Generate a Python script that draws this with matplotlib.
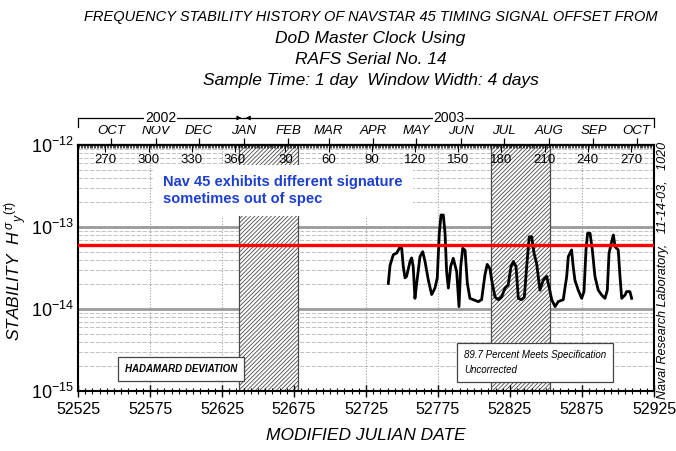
"""
Frequency stability history of NAVSTAR 45 (Hadamard deviation vs MJD).
"""

import matplotlib.pyplot as plt
import matplotlib.transforms as mtransforms
import numpy as np
from matplotlib.ticker import FixedLocator, MultipleLocator, NullFormatter

plt.rcParams["font.family"] = ["Liberation Sans", "DejaVu Sans"]
plt.rcParams["mathtext.fontset"] = "custom"
plt.rcParams["mathtext.rm"] = "Liberation Sans"
plt.rcParams["mathtext.it"] = "Liberation Sans:italic"
plt.rcParams["hatch.linewidth"] = 0.6

# ----------------------------------------------------------------- data
MJD = [52740.5, 52741.7, 52744.0, 52746.3, 52748.6, 52749.8, 52750.9, 52752.1,
       52753.2, 52755.6, 52756.7, 52757.8, 52759.0, 52760.2, 52762.5, 52764.4,
       52766.0, 52768.3, 52770.6, 52772.9, 52774.5, 52775.9, 52777.1, 52778.7,
       52779.9, 52781.0, 52782.2, 52783.8, 52785.6, 52788.0, 52789.6, 52790.8,
       52792.2, 52793.8, 52795.4, 52797.2, 52799.5, 52803.0, 52805.3, 52807.6,
       52809.2, 52811.1, 52812.3, 52814.6, 52816.9, 52819.2, 52821.5, 52823.8,
       52825.7, 52827.3, 52829.2, 52830.8, 52833.1, 52835.0, 52836.6, 52838.4,
       52840.1, 52841.7, 52843.5, 52845.8, 52848.1, 52850.5, 52852.1, 52854.0,
       52856.3, 52858.5, 52862.0, 52864.4, 52865.5, 52867.8, 52868.9, 52870.1,
       52872.4, 52874.8, 52876.4, 52877.8, 52878.9, 52880.6, 52882.2, 52884.0,
       52886.3, 52888.7, 52891.0, 52892.6, 52893.8, 52895.6, 52896.8, 52898.0,
       52900.2, 52901.4, 52902.6, 52904.9, 52906.0, 52908.3, 52909.5]
# Hadamard deviation in units of 1e-14
SIGMA_E14 = [2.05, 3.4, 4.6, 4.8, 5.7, 5.5, 3.3, 2.4,
             2.5, 3.8, 4.2, 3.3, 1.35, 2.05, 4.35, 5.0,
             3.8, 2.25, 1.5, 1.8, 2.4, 8.4, 14.0, 14.0,
             8.4, 2.85, 1.8, 3.3, 4.15, 2.85, 1.07, 3.3,
             5.5, 5.2, 2.05, 1.35, 1.3, 1.23, 1.3, 2.6,
             3.5, 3.1, 2.25, 1.4, 1.3, 1.4, 1.8, 1.97,
             3.3, 3.8, 3.3, 1.35, 1.3, 1.4, 3.3, 7.6,
             7.6, 4.8, 3.6, 1.7, 2.25, 2.5, 1.87, 1.3,
             1.07, 1.23, 1.3, 2.5, 4.35, 5.25, 3.3, 2.25,
             1.7, 1.35, 1.63, 5.25, 8.4, 8.4, 5.25, 2.5,
             1.7, 1.48, 1.35, 1.7, 4.8, 6.6, 8.0, 5.75,
             5.25, 2.5, 1.35, 1.48, 1.63, 1.63, 1.35]
assert len(MJD) == len(SIGMA_E14)

SPEC_LIMIT = 6.0e-14
HATCH_START = [52637, 52812]
HATCH_END = [52678, 52853]

# calendar for the top axis
YEARS = [2002, 2003]
YEAR_START_MJD = [52275, 52640]
YEAR_END_MJD = [52640, 53005]
MONTHS = ["OCT", "NOV", "DEC", "JAN", "FEB", "MAR", "APR", "MAY", "JUN",
          "JUL", "AUG", "SEP", "OCT"]
MONTH_START_MJD = [52548, 52579, 52609, 52640, 52671, 52699, 52730, 52760,
                   52791, 52821, 52852, 52883, 52913]
DOY_LABELS = [270, 300, 330, 360, 30, 60, 90, 120, 150, 180, 210, 240, 270]
DOY_MJD = [52544, 52574, 52604, 52634, 52669, 52699, 52729, 52759, 52789,
           52819, 52849, 52879, 52909]

XMIN, XMAX = 52525, 52925
YMIN, YMAX = 1e-15, 1e-12

TITLE = ["FREQUENCY STABILITY HISTORY OF NAVSTAR 45 TIMING SIGNAL OFFSET FROM",
         "DoD Master Clock Using",
         "RAFS Serial No. 14",
         "Sample Time: 1 day  Window Width: 4 days"]

# ----------------------------------------------------------------- figure
fig = plt.figure(figsize=(6.76, 4.51), dpi=100)
ax = fig.add_axes([0.1154, 0.133, 0.852, 0.5455])
ax.set_xlim(XMIN, XMAX)
ax.set_yscale("log")
ax.set_ylim(YMIN, YMAX)

x_major = np.arange(XMIN, XMAX + 1, 50)

# grid: dashed minor decades, solid grey decade lines, dotted verticals
for dec in [1e-15, 1e-14, 1e-13]:
    for m in range(2, 10):
        ax.axhline(m * dec, color="#b5b5b5", lw=0.6, ls=(0, (5, 2)), zorder=0)
for dec in [1e-14, 1e-13]:
    ax.axhline(dec, color="#9a9a9a", lw=2.0, zorder=0.5)
for xv in x_major[1:-1]:
    ax.axvline(xv, color="#a0a0a0", lw=0.8, ls=(0, (1, 1.5)), zorder=0)

# hatched (excluded) periods
for s, e in zip(HATCH_START, HATCH_END):
    ax.axvspan(s, e, facecolor="white", edgecolor="#4a4a4a", hatch="////////",
               lw=0.9, zorder=1)

# data and spec line
sigma = np.array(SIGMA_E14) * 1e-14
ax.plot(MJD, sigma, color="black", lw=2.0, zorder=3)
ax.axhline(SPEC_LIMIT, color="#ff0000", lw=2.4, zorder=4)

# spines / ticks
for sp in ax.spines.values():
    sp.set_linewidth(1.5)
ax.xaxis.set_major_locator(FixedLocator(x_major))
ax.xaxis.set_minor_locator(MultipleLocator(5))
ax.tick_params(axis="x", which="major", direction="inout", length=8, width=1.0,
               labelsize=11.5, pad=4)
ax.tick_params(axis="x", which="minor", direction="inout", length=4, width=0.8)
ax.tick_params(axis="y", which="major", direction="in", length=0, labelsize=13,
               pad=3)
ax.tick_params(axis="y", which="minor", length=0)
ax.yaxis.set_minor_formatter(NullFormatter())

# top axis: months outside, day-of-year inside
top_m = ax.secondary_xaxis("top")
top_m.xaxis.set_major_locator(FixedLocator(MONTH_START_MJD))
top_m.set_xticklabels(MONTHS, fontstyle="italic", fontsize=9.5)
top_m.tick_params(axis="x", direction="out", length=5, width=0.9, pad=1)
top_m.spines["top"].set_linewidth(1.5)

top_d = ax.secondary_xaxis("top")
top_d.xaxis.set_major_locator(FixedLocator(DOY_MJD))
top_d.set_xticklabels([str(d) for d in DOY_LABELS], fontsize=9.5)
top_d.xaxis.set_minor_locator(MultipleLocator(1))
top_d.tick_params(axis="x", which="major", direction="in", length=5, width=0.8,
                  pad=-15)
top_d.tick_params(axis="x", which="minor", direction="in", length=2.5, width=0.5)
top_d.spines["top"].set_linewidth(1.5)
top_d.set_zorder(10)

# year brackets above the month labels
tr = mtransforms.blended_transform_factory(ax.transData, ax.transAxes)
y_br, y_hook = 1.11, 1.073
for yr, s, e in zip(YEARS, YEAR_START_MJD, YEAR_END_MJD):
    a, b = max(s, XMIN), min(e, XMAX)
    ax.plot([a, b], [y_br, y_br], color="black", lw=0.9, transform=tr,
            clip_on=False)
    for end, clipped, direction in [(a, s < XMIN, -1), (b, e > XMAX, 1)]:
        if clipped:
            ax.plot([end, end], [y_br, y_hook], color="black", lw=0.9,
                    transform=tr, clip_on=False)
        else:
            ax.annotate("", xy=(end, y_br), xytext=(end - direction * 4, y_br),
                        xycoords=tr, textcoords=tr,
                        arrowprops=dict(arrowstyle="-|>", color="black", lw=0.8,
                                        mutation_scale=6, shrinkA=0, shrinkB=1.5))
    ax.text((a + b) / 2, y_br, str(yr), transform=tr, ha="center", va="center",
            fontsize=10, bbox=dict(facecolor="white", edgecolor="none", pad=0.5))

# labels
ax.set_xlabel("MODIFIED JULIAN DATE", fontstyle="italic", fontsize=12.5,
              labelpad=8)
fig.text(0.024, 0.40, r"STABILITY  $H\,^{\sigma}{}_{y}{}^{(\tau)}$",
         rotation=90, ha="center", va="center", fontstyle="italic", fontsize=12.5)
fig.text(0.981, 0.40, "Naval Research Laboratory,   11-14-03,   1020",
         rotation=90, ha="center", va="center", fontstyle="italic", fontsize=9)

for i, line in enumerate(TITLE):
    fig.text(0.548, 1 - (17 + 21.3 * i) / 451, line, ha="center", va="center",
             fontstyle="italic", fontsize=10.5 if i == 0 else 12.5)

# annotations in the plot
ax.text(0.148, 0.815, "Nav 45 exhibits different signature\nsometimes out of spec",
        transform=ax.transAxes, color="#1c3fcf", fontsize=10.5,
        fontweight="bold", ha="left", va="center", linespacing=1.25, zorder=6,
        bbox=dict(facecolor="white", edgecolor="none", pad=7))
ax.text(0.082, 0.09, "HADAMARD DEVIATION", transform=ax.transAxes,
        fontsize=7, fontstyle="italic", fontweight="bold", ha="left",
        va="center", zorder=6,
        bbox=dict(facecolor="white", edgecolor="#444444", lw=0.9,
                  boxstyle="square,pad=0.7"))
ax.text(0.67, 0.115, "89.7 Percent Meets Specification\nUncorrected",
        transform=ax.transAxes, fontsize=7, fontstyle="italic", ha="left",
        va="center", zorder=6, linespacing=1.6,
        bbox=dict(facecolor="white", edgecolor="#444444", lw=0.9,
                  boxstyle="square,pad=0.75"))

fig.savefig("out.png", dpi=100)
